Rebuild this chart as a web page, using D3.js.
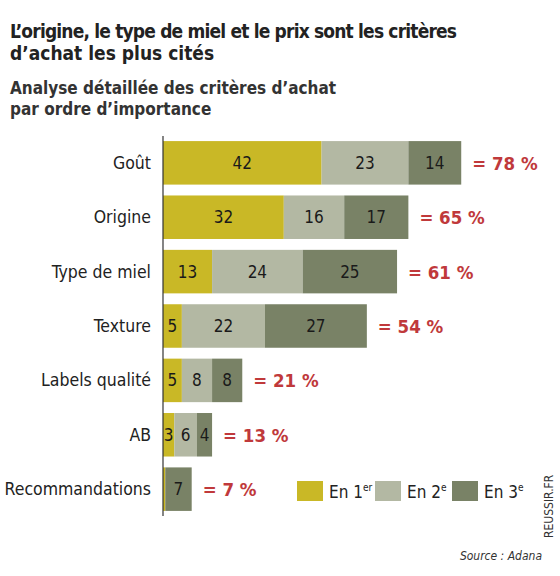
<!DOCTYPE html><html><head><meta charset="utf-8">
<script src="https://cdn.jsdelivr.net/npm/d3@7"></script>
<style>body{margin:0;background:#fff}text{font-family:"DejaVu Sans Condensed","Liberation Sans Narrow",sans-serif}</style></head><body>
<svg id="c" width="560" height="576"></svg>
<script>
const categories=["Goût","Origine","Type de miel","Texture","Labels qualité","AB","Recommandations"];
const first=[42,32,13,5,5,3,0.6];
const second=[23,16,24,22,8,6,0];
const third=[14,17,25,27,8,4,7];
const totals=["= 78 %","= 65 %","= 61 %","= 54 %","= 21 %","= 13 %","= 7 %"];
const seriesNames=["En 1","En 2","En 3"];
const seriesSup=["er","e","e"];
const colors=["#c9b826","#b3b8a3","#798266"];
const svg=d3.select("#c");
svg.append("text").attr("x",10).attr("y",38).attr("font-size",19).attr("font-weight","bold").attr("fill","#222").attr("textLength",447).text("L’origine, le type de miel et le prix sont les critères");
svg.append("text").attr("x",10).attr("y",60).attr("font-size",19).attr("font-weight","bold").attr("fill","#222").text("d’achat les plus cités");
svg.append("text").attr("x",10).attr("y",94).attr("font-size",17).attr("font-weight","bold").attr("fill","#333").text("Analyse détaillée des critères d’achat");
svg.append("text").attr("x",10).attr("y",115).attr("font-size",17).attr("font-weight","bold").attr("fill","#333").text("par ordre d’importance");
const x=d3.scaleLinear().domain([0,80]).range([163,465]);
const y=d3.scaleBand().domain(categories).range([140,512]).paddingInner(0.2).paddingOuter(0.02);
const stackData=categories.map((c,i)=>({c,a:first[i],b:second[i],d:third[i]}));
const stack=d3.stack().keys(["a","b","d"])(stackData);
stack.forEach((s,k)=>{
  const g=svg.append("g");
  g.selectAll("rect").data(s).join("rect").attr("x",d=>x(d[0])).attr("width",d=>x(d[1])-x(d[0]))
   .attr("y",d=>y(d.data.c)).attr("height",y.bandwidth()).attr("fill",colors[k]);
  g.selectAll("text").data(s.filter(d=>d[1]-d[0]>=2)).join("text").attr("x",d=>x((d[0]+d[1])/2))
   .attr("y",d=>y(d.data.c)+y.bandwidth()/2+6).attr("text-anchor","middle").attr("font-size",17).attr("fill","#1a1a1a").text(d=>d[1]-d[0]);
});
svg.append("line").attr("x1",163).attr("x2",163).attr("y1",136).attr("y2",516).attr("stroke","#333").attr("stroke-width",1.2);
svg.append("g").selectAll("text").data(categories).join("text").attr("x",151).attr("y",c=>y(c)+y.bandwidth()/2+6)
 .attr("text-anchor","end").attr("font-size",17.5).attr("fill","#222").text(c=>c);
svg.append("g").selectAll("text").data(stackData).join("text").attr("x",(d,i)=>x(first[i]+second[i]+third[i])+11)
 .attr("y",d=>y(d.c)+y.bandwidth()/2+7).attr("font-size",18.5).attr("font-weight","bold").attr("fill","#c0393b").text((d,i)=>totals[i]);
const lx=[297,375,452];
seriesNames.forEach((n,i)=>{
  svg.append("rect").attr("x",lx[i]).attr("y",481).attr("width",26).attr("height",20).attr("fill",colors[i]);
  const t=svg.append("text").attr("x",lx[i]+32).attr("y",498).attr("font-size",17).attr("fill","#222").text(n);
  t.append("tspan").attr("dy",-7).attr("font-size",10).text(seriesSup[i]);
});
svg.append("text").attr("x",542).attr("y",560).attr("text-anchor","end").attr("font-size",12).attr("font-style","italic").attr("fill","#333").text("Source : Adana");
svg.append("text").attr("transform","translate(553,538) rotate(-90)").attr("font-size",12).attr("fill","#333").text("REUSSIR.FR");
</script></body></html>
